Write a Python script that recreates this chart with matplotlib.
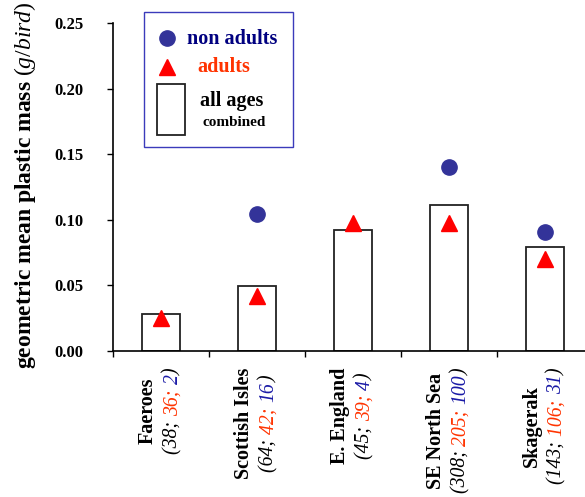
import matplotlib
matplotlib.use("Agg")
import matplotlib.pyplot as plt
import numpy as np
from matplotlib.patches import Rectangle
from matplotlib.lines import Line2D
from matplotlib.transforms import IdentityTransform


SITES = ["Faeroes", "Scottish Isles", "E. England", "SE North Sea", "Skagerak"]
N_ALL = [38, 64, 45, 308, 143]
N_ADULTS = [36, 42, 39, 205, 106]
N_NON_ADULTS = [2, 16, 4, 100, 31]
ALL_AGES = [0.0282, 0.0498, 0.0922, 0.1113, 0.0793]
ADULTS = [0.0255, 0.0419, 0.0972, 0.0972, 0.0701]
NON_ADULTS = [np.nan, 0.1048, np.nan, 0.1402, 0.0907]
Y_TICKS = [0.00, 0.05, 0.10, 0.15, 0.20, 0.25]

BLUE = "#333399"
NAVY = "#000080"
RED = "#ff0000"
ORANGE = "#ff3300"
SERIF = "Liberation Serif"

W, H = 585, 497

plt.rcParams["font.family"] = SERIF
plt.rcParams["mathtext.fontset"] = "custom"
plt.rcParams["mathtext.rm"] = SERIF
plt.rcParams["mathtext.bf"] = SERIF + ":bold"
plt.rcParams["mathtext.it"] = SERIF + ":italic"


def fig_xy(x, y):
    # pixel position measured from the top-left corner -> figure fraction
    return x / W, 1 - y / H


fig = plt.figure(figsize=(W / 100, H / 100), dpi=100)
ax = fig.add_axes([113 / W, (H - 351) / H, 480 / W, 328 / H])

x = np.arange(len(SITES))
ax.bar(x, ALL_AGES, width=0.39, color="white", edgecolor="#222222", linewidth=1.3, zorder=2)
ax.plot(x, ADULTS, linestyle="none", marker="^", markersize=12, color=RED, zorder=3)
ax.plot(x, NON_ADULTS, linestyle="none", marker="o", markersize=11, color=BLUE, zorder=3)

ax.set_xlim(-0.5, len(SITES) - 0.5)
ax.set_ylim(0, 0.25)
ax.set_yticks(Y_TICKS)
ax.set_yticklabels([f"{v:.2f}" for v in Y_TICKS], fontsize=12, fontweight="bold")
ax.set_xticks(np.arange(-0.5, len(SITES), 1.0))
ax.set_xticklabels([])
ax.tick_params(axis="both", direction="out", length=4.5, width=1, color="black")
ax.tick_params(axis="y", pad=17)
for side in ["top", "right"]:
    ax.spines[side].set_visible(False)
for side in ["left", "bottom"]:
    ax.spines[side].set_linewidth(1.2)

ax.set_ylabel(r"$\mathbf{geometric\ mean\ plastic\ mass}\ \mathit{(g/bird)}$", fontsize=17)
ax.yaxis.set_label_coords(-0.157, 0.506)

# rotated category labels; second line coloured per sample size
fig.canvas.draw()
renderer = fig.canvas.get_renderer()
ident = IdentityTransform()
axis_y = ax.transData.transform((0, 0))[1]
top = axis_y - 17
for i, site in enumerate(SITES):
    cx = ax.transData.transform((i, 0))[0]
    name = fig.text(0, 0, site, rotation=90, fontsize=14.5, fontweight="bold",
                    ha="center", va="center", transform=ident)
    name_len = name.get_window_extent(renderer).height
    pieces = [(f"({N_ALL[i]}; ", "black"), (f"{N_ADULTS[i]}; ", ORANGE),
              (f"{N_NON_ADULTS[i]}", "#1a1aa6"), (")", "black")]
    texts = []
    for s, c in pieces:
        t = fig.text(0, 0, s, rotation=90, fontsize=14.2, fontstyle="italic", color=c,
                     ha="center", va="bottom", transform=ident)
        texts.append((t, t.get_window_extent(renderer).height))
    paren_len = sum(h for _, h in texts)
    block = max(name_len, paren_len)
    yc = top - block / 2
    name.set_position((cx - 13, yc))
    y0 = yc - paren_len / 2
    for t, h in texts:
        t.set_position((cx + 12, y0))
        y0 += h

# legend box
lx0, ly0 = fig_xy(144, 147)
lx1, ly1 = fig_xy(293, 12)
fig.patches.append(Rectangle((lx0, ly0), lx1 - lx0, ly1 - ly0, transform=fig.transFigure,
                             facecolor="white", edgecolor="#3b3bbb", linewidth=1.0, zorder=5))
fig.lines.append(Line2D([167 / W], [1 - 38 / H], marker="o", markersize=11, color=BLUE,
                        transform=fig.transFigure, zorder=6))
fig.lines.append(Line2D([167 / W], [1 - 66.5 / H], marker="^", markersize=12, color=RED,
                        transform=fig.transFigure, zorder=6))
rx0, ry0 = fig_xy(157, 135)
rx1, ry1 = fig_xy(185, 84)
fig.patches.append(Rectangle((rx0, ry0), rx1 - rx0, ry1 - ry0, transform=fig.transFigure,
                             facecolor="white", edgecolor="#222222", linewidth=1.3, zorder=6))
fig.text(*fig_xy(187, 39), "non adults", fontsize=14.5, fontweight="bold", color=NAVY,
         ha="left", va="center", zorder=7)
fig.text(*fig_xy(197, 67), "adults", fontsize=14.5, fontweight="bold", color=ORANGE,
         ha="left", va="center", zorder=7)
fig.text(*fig_xy(232, 101), "all ages", fontsize=14.5, fontweight="bold", color="black",
         ha="center", va="center", zorder=7)
fig.text(*fig_xy(234, 122), "combined", fontsize=11, fontweight="bold", color="black",
         ha="center", va="center", zorder=7)

fig.savefig("out.png", dpi=100)
